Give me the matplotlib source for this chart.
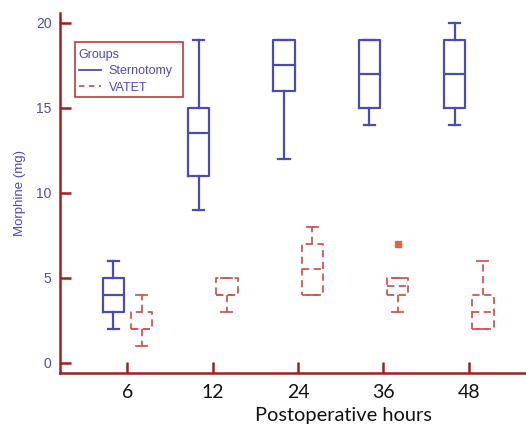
import matplotlib
matplotlib.use("Agg")
import matplotlib.pyplot as plt
from matplotlib.lines import Line2D
from matplotlib.patches import Rectangle

# Data
hours = ["6", "12", "24", "36", "48"]

stern_whislo = [2, 9, 12, 14, 14]
stern_q1 = [3, 11, 16, 15, 15]
stern_med = [4, 13.5, 17.5, 17, 17]
stern_q3 = [5, 15, 19, 19, 19]
stern_whishi = [6, 19, 19, 19, 20]
stern_fliers = [[], [], [], [], []]

vatet_whislo = [1, 3, 4, 3, 2]
vatet_q1 = [2, 4, 4, 4, 2]
vatet_med = [2, 4, 5.5, 4.5, 3]
vatet_q3 = [3, 5, 7, 5, 4]
vatet_whishi = [4, 5, 8, 5, 6]
vatet_fliers = [[], [], [], [7], []]

blue = "#4b4bb4"
red = "#d0574f"
axis_red = "#a01f1f"

def stats(lo, q1, med, q3, hi, fl):
    return [dict(whislo=a, q1=b, med=c, q3=d, whishi=e, fliers=f)
            for a, b, c, d, e, f in zip(lo, q1, med, q3, hi, fl)]

fig = plt.figure(figsize=(5.26, 4.25), dpi=100)
ax = fig.add_axes([60/526, 52/425, 466/526, 360/425])

pos = list(range(len(hours)))
off = 0.165
w = 0.25

ax.bxp(stats(stern_whislo, stern_q1, stern_med, stern_q3, stern_whishi, stern_fliers),
       positions=[p - off for p in pos], widths=w, showfliers=False, capwidths=0.13,
       boxprops=dict(color=blue, lw=1.6),
       whiskerprops=dict(color=blue, lw=1.6),
       capprops=dict(color=blue, lw=1.6),
       medianprops=dict(color=blue, lw=1.6), manage_ticks=False)

dash = (0, (4, 2.5))
ax.bxp(stats(vatet_whislo, vatet_q1, vatet_med, vatet_q3, vatet_whishi, vatet_fliers),
       positions=[p + off for p in pos], widths=w, showfliers=True, capwidths=0.13,
       boxprops=dict(color=red, lw=1.3, linestyle=dash),
       whiskerprops=dict(color=red, lw=1.3, linestyle=dash),
       capprops=dict(color=red, lw=1.3),
       medianprops=dict(color=red, lw=1.3, linestyle=dash),
       flierprops=dict(marker="s", markersize=5, markerfacecolor="#e8603c",
                       markeredgecolor="#e8603c"),
       manage_ticks=False)

ax.set_xlim(-0.79, 4.67)
ax.set_ylim(-0.59, 20.57)
ax.set_xticks(pos)
ax.set_xticklabels(hours, fontfamily="Lato", fontsize=14, color="#111111")
ax.set_yticks([0, 5, 10, 15, 20])
ax.set_yticklabels(["0", "5", "10", "15", "20"], fontfamily="Liberation Sans",
                   fontsize=10, color=blue)

for s in ["top", "right"]:
    ax.spines[s].set_visible(False)
for s in ["left", "bottom"]:
    ax.spines[s].set_color(axis_red)
    ax.spines[s].set_linewidth(1.8)
ax.tick_params(axis="both", direction="in", length=8, width=1.8, color=axis_red)
ax.tick_params(axis="x", pad=8)
ax.tick_params(axis="y", pad=6)

ax.set_xlabel("Postoperative hours", fontfamily="Lato", fontsize=14.4,
              color="#111111")
ax.xaxis.set_label_coords(0.609, -0.095)
ax.set_ylabel("Morphine (mg)", fontfamily="Liberation Sans", fontsize=9.5,
              color=blue, labelpad=7)

# legend frame drawn as a rectangle (reference frame has extra right padding)
ax.add_patch(Rectangle((0.032, 0.767), 0.232, 0.152, transform=ax.transAxes,
                       facecolor="white", edgecolor="#c0393b", lw=1.2,
                       zorder=4, clip_on=False))

handles = [Line2D([], [], color=blue, lw=1.3),
           Line2D([], [], color=red, lw=1.3, linestyle=(0, (3, 2.5)))]
leg = ax.legend(handles, ["Sternotomy", "VATET"], title="Groups",
                loc="upper left", bbox_to_anchor=(0.036, 0.906), borderaxespad=0,
                frameon=False,
                prop=dict(family="Liberation Sans", size=9),
                title_fontproperties=dict(family="Liberation Sans", size=9),
                handlelength=1.8, handletextpad=0.6, labelspacing=0.38,
                borderpad=0.15)
leg.set_zorder(5)
leg.get_title().set_color(blue)
for t in leg.get_texts():
    t.set_color(blue)
leg._legend_box.align = "left"
leg._legend_box.sep = 3

fig.savefig("out.png", dpi=100)
